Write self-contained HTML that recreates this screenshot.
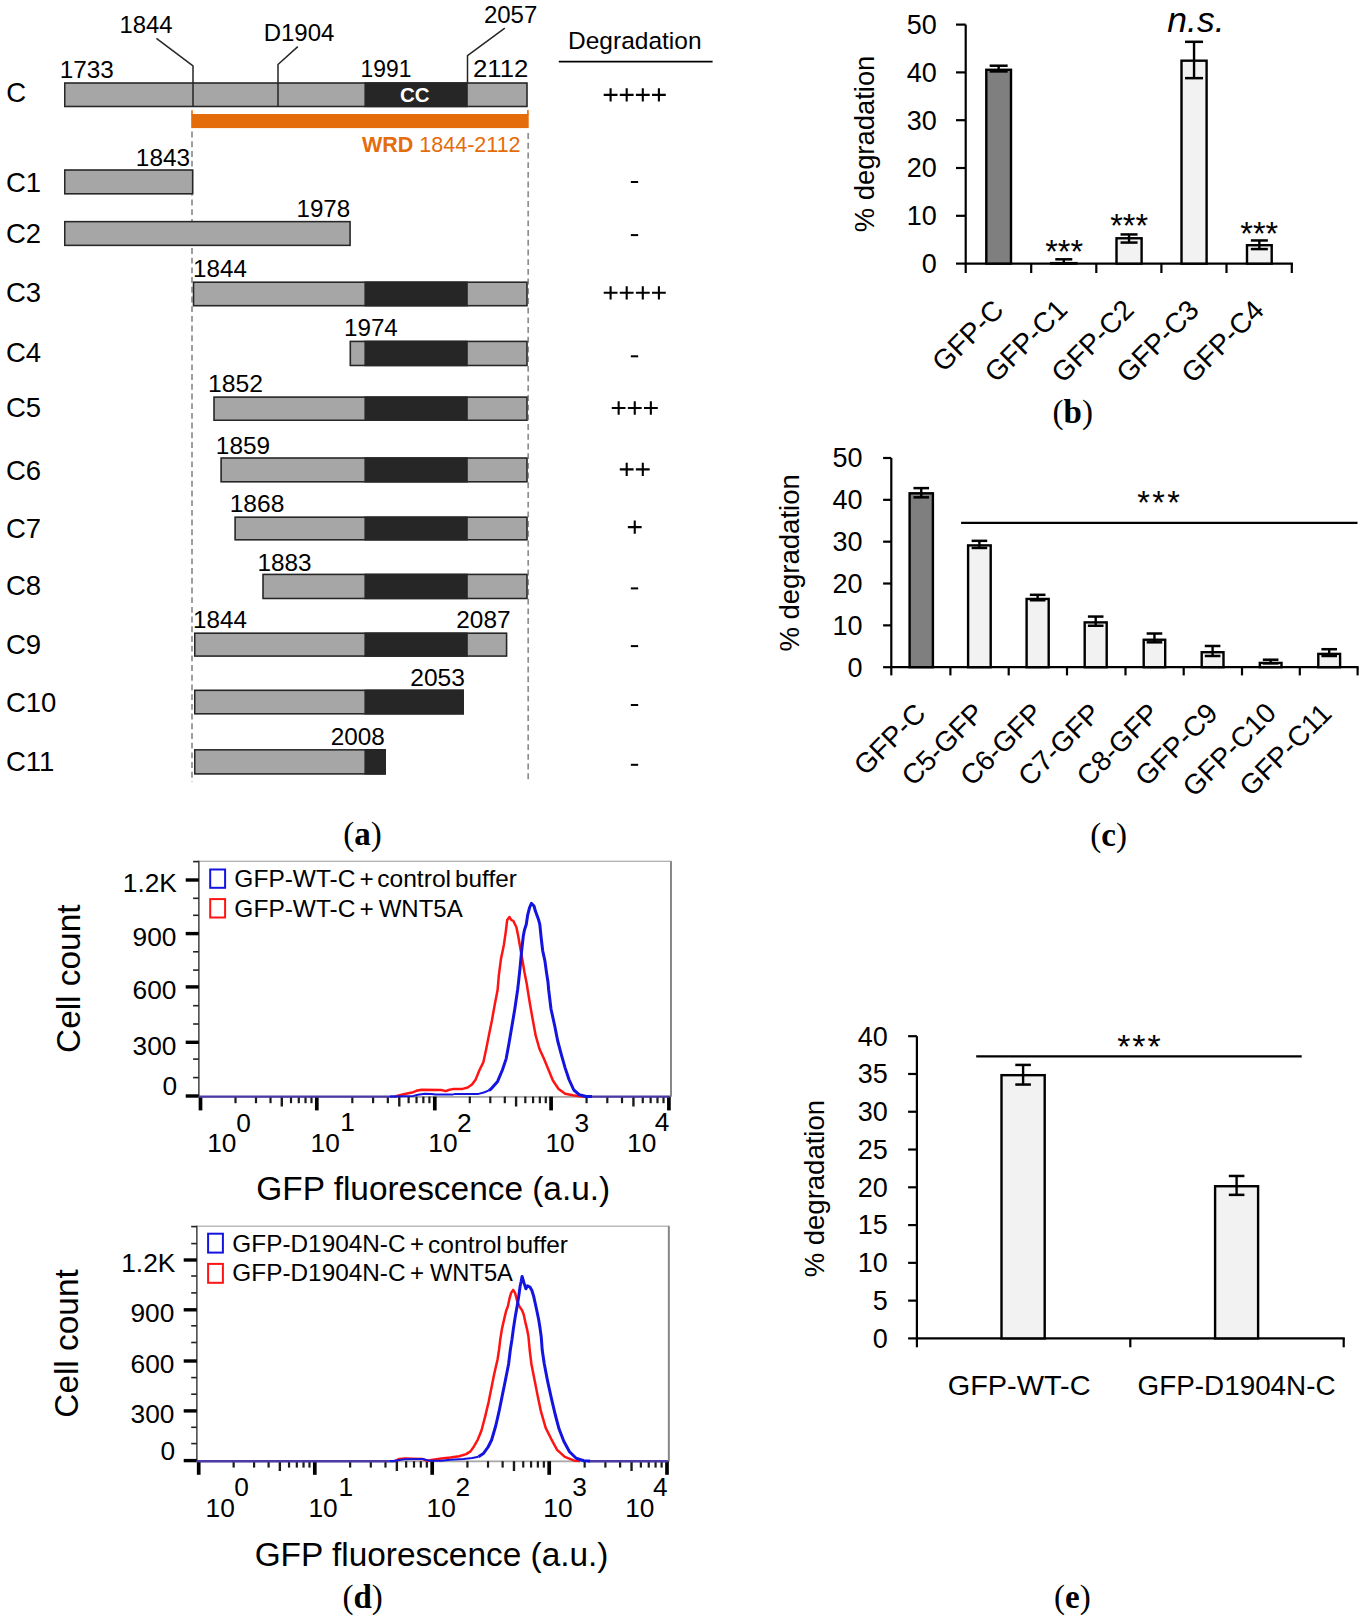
<!DOCTYPE html>
<html><head><meta charset="utf-8"><title>Figure</title>
<style>html,body{margin:0;padding:0;background:#fff;overflow:hidden;} svg{display:block;}</style></head>
<body><svg width="1365" height="1619" viewBox="0 0 1365 1619" font-family='"Liberation Sans", sans-serif'>
<rect width="1365" height="1619" fill="#fff"/>
<line x1="192.00" y1="131.60" x2="192.00" y2="782.00" stroke="#8f8f8f" stroke-width="1.7" stroke-dasharray="5.9,3.8"/>
<line x1="528.20" y1="133.10" x2="528.20" y2="782.00" stroke="#8f8f8f" stroke-width="1.7" stroke-dasharray="5.9,3.8"/>
<text x="6.22" y="102.32" font-size="27.5" font-family='"Liberation Sans", sans-serif' >C</text>
<rect x="64.00" y="82.30" width="463.70" height="24.90" fill="#a6a6a6"/>
<rect x="364.4" y="82.30" width="103.40" height="24.90" fill="#262626"/>
<rect x="64.75" y="83.05" width="462.20" height="23.40" fill="none" stroke="#262626" stroke-width="1.5"/>
<text x="5.92" y="191.92" font-size="27.5" font-family='"Liberation Sans", sans-serif' >C1</text>
<rect x="64.00" y="169.30" width="129.40" height="25.20" fill="#a6a6a6"/>
<rect x="64.75" y="170.05" width="127.90" height="23.70" fill="none" stroke="#262626" stroke-width="1.5"/>
<text x="5.92" y="242.92" font-size="27.5" font-family='"Liberation Sans", sans-serif' >C2</text>
<rect x="64.00" y="220.90" width="286.80" height="25.20" fill="#a6a6a6"/>
<rect x="64.75" y="221.65" width="285.30" height="23.70" fill="none" stroke="#262626" stroke-width="1.5"/>
<text x="5.92" y="302.33" font-size="27.5" font-family='"Liberation Sans", sans-serif' >C3</text>
<rect x="192.80" y="281.50" width="334.90" height="24.90" fill="#a6a6a6"/>
<rect x="364.4" y="281.50" width="103.40" height="24.90" fill="#262626"/>
<rect x="193.55" y="282.25" width="333.40" height="23.40" fill="none" stroke="#262626" stroke-width="1.5"/>
<text x="5.92" y="361.83" font-size="27.5" font-family='"Liberation Sans", sans-serif' >C4</text>
<rect x="349.60" y="340.70" width="178.10" height="25.50" fill="#a6a6a6"/>
<rect x="364.4" y="340.70" width="103.40" height="25.50" fill="#262626"/>
<rect x="350.35" y="341.45" width="176.60" height="24.00" fill="none" stroke="#262626" stroke-width="1.5"/>
<text x="5.92" y="417.23" font-size="27.5" font-family='"Liberation Sans", sans-serif' >C5</text>
<rect x="213.30" y="396.40" width="314.40" height="24.60" fill="#a6a6a6"/>
<rect x="364.4" y="396.40" width="103.40" height="24.60" fill="#262626"/>
<rect x="214.05" y="397.15" width="312.90" height="23.10" fill="none" stroke="#262626" stroke-width="1.5"/>
<text x="5.92" y="479.62" font-size="27.5" font-family='"Liberation Sans", sans-serif' >C6</text>
<rect x="220.40" y="457.30" width="307.30" height="25.20" fill="#a6a6a6"/>
<rect x="364.4" y="457.30" width="103.40" height="25.20" fill="#262626"/>
<rect x="221.15" y="458.05" width="305.80" height="23.70" fill="none" stroke="#262626" stroke-width="1.5"/>
<text x="5.92" y="538.23" font-size="27.5" font-family='"Liberation Sans", sans-serif' >C7</text>
<rect x="234.40" y="516.50" width="293.30" height="24.00" fill="#a6a6a6"/>
<rect x="364.4" y="516.50" width="103.40" height="24.00" fill="#262626"/>
<rect x="235.15" y="517.25" width="291.80" height="22.50" fill="none" stroke="#262626" stroke-width="1.5"/>
<text x="5.92" y="595.33" font-size="27.5" font-family='"Liberation Sans", sans-serif' >C8</text>
<rect x="262.30" y="573.70" width="265.40" height="25.50" fill="#a6a6a6"/>
<rect x="364.4" y="573.70" width="103.40" height="25.50" fill="#262626"/>
<rect x="263.05" y="574.45" width="263.90" height="24.00" fill="none" stroke="#262626" stroke-width="1.5"/>
<text x="5.92" y="653.62" font-size="27.5" font-family='"Liberation Sans", sans-serif' >C9</text>
<rect x="194.00" y="632.50" width="313.30" height="24.30" fill="#a6a6a6"/>
<rect x="364.4" y="632.50" width="103.40" height="24.30" fill="#262626"/>
<rect x="194.75" y="633.25" width="311.80" height="22.80" fill="none" stroke="#262626" stroke-width="1.5"/>
<text x="5.92" y="712.23" font-size="27.5" font-family='"Liberation Sans", sans-serif' >C10</text>
<rect x="194.00" y="689.60" width="269.90" height="24.90" fill="#a6a6a6"/>
<rect x="364.4" y="689.60" width="99.50" height="24.90" fill="#262626"/>
<rect x="194.75" y="690.35" width="268.40" height="23.40" fill="none" stroke="#262626" stroke-width="1.5"/>
<text x="5.92" y="771.43" font-size="27.5" font-family='"Liberation Sans", sans-serif' >C11</text>
<rect x="194.00" y="749.10" width="191.90" height="25.50" fill="#a6a6a6"/>
<rect x="364.4" y="749.10" width="21.50" height="25.50" fill="#262626"/>
<rect x="194.75" y="749.85" width="190.40" height="24.00" fill="none" stroke="#262626" stroke-width="1.5"/>
<text x="59.68" y="78.30" font-size="24" font-family='"Liberation Sans", sans-serif' textLength="54.09" lengthAdjust="spacingAndGlyphs" >1733</text>
<text x="360.59" y="77.00" font-size="24" font-family='"Liberation Sans", sans-serif' textLength="50.83" lengthAdjust="spacingAndGlyphs" >1991</text>
<text x="473.01" y="77.00" font-size="24" font-family='"Liberation Sans", sans-serif' textLength="55.39" lengthAdjust="spacingAndGlyphs" >2112</text>
<text x="483.90" y="22.70" font-size="24" font-family='"Liberation Sans", sans-serif' >2057</text>
<text x="119.41" y="32.90" font-size="24" font-family='"Liberation Sans", sans-serif' textLength="53.10" lengthAdjust="spacingAndGlyphs" >1844</text>
<text x="135.88" y="166.20" font-size="24" font-family='"Liberation Sans", sans-serif' textLength="54.09" lengthAdjust="spacingAndGlyphs" >1843</text>
<text x="296.49" y="216.90" font-size="24" font-family='"Liberation Sans", sans-serif' textLength="53.77" lengthAdjust="spacingAndGlyphs" >1978</text>
<text x="193.09" y="276.90" font-size="24" font-family='"Liberation Sans", sans-serif' textLength="53.83" lengthAdjust="spacingAndGlyphs" >1844</text>
<text x="343.99" y="336.10" font-size="24" font-family='"Liberation Sans", sans-serif' textLength="53.83" lengthAdjust="spacingAndGlyphs" >1974</text>
<text x="207.95" y="392.10" font-size="24" font-family='"Liberation Sans", sans-serif' textLength="54.98" lengthAdjust="spacingAndGlyphs" >1852</text>
<text x="215.87" y="453.60" font-size="24" font-family='"Liberation Sans", sans-serif' textLength="54.22" lengthAdjust="spacingAndGlyphs" >1859</text>
<text x="229.66" y="512.20" font-size="24" font-family='"Liberation Sans", sans-serif' textLength="54.72" lengthAdjust="spacingAndGlyphs" >1868</text>
<text x="257.48" y="570.80" font-size="24" font-family='"Liberation Sans", sans-serif' textLength="54.09" lengthAdjust="spacingAndGlyphs" >1883</text>
<text x="193.09" y="627.90" font-size="24" font-family='"Liberation Sans", sans-serif' textLength="53.83" lengthAdjust="spacingAndGlyphs" >1844</text>
<text x="456.28" y="628.00" font-size="24" font-family='"Liberation Sans", sans-serif' textLength="54.23" lengthAdjust="spacingAndGlyphs" >2087</text>
<text x="410.27" y="685.70" font-size="24" font-family='"Liberation Sans", sans-serif' textLength="54.60" lengthAdjust="spacingAndGlyphs" >2053</text>
<text x="330.78" y="744.50" font-size="24" font-family='"Liberation Sans", sans-serif' textLength="54.08" lengthAdjust="spacingAndGlyphs" >2008</text>
<text x="263.68" y="41.00" font-size="24" font-family='"Liberation Sans", sans-serif' >D1904</text>
<polyline points="156.40,38.40 193.00,65.90 193.00,107.00" fill="none" stroke="#262626" stroke-width="1.5" stroke-linejoin="round" />
<polyline points="297.80,46.60 278.00,64.50 278.00,107.00" fill="none" stroke="#262626" stroke-width="1.5" stroke-linejoin="round" />
<polyline points="504.80,28.10 467.50,55.70 467.50,83.00" fill="none" stroke="#262626" stroke-width="1.5" stroke-linejoin="round" />
<text x="399.98" y="102.45" font-size="20.5" font-family='"Liberation Sans", sans-serif' font-weight="bold" fill="#fff" >CC</text>
<rect x="191.2" y="114" width="337.5" height="14.1" fill="#e46c0a"/>
<line x1="192.00" y1="110.30" x2="192.00" y2="115.00" stroke="#e46c0a" stroke-width="1.6" />
<line x1="527.90" y1="110.00" x2="527.90" y2="115.00" stroke="#e46c0a" stroke-width="1.6" />
<text x="362.0" y="152.2" font-size="21.5" font-family='"Liberation Sans", sans-serif' fill="#e46c0a"><tspan font-weight="bold">WRD</tspan> 1844-2112</text>
<text x="568.04" y="48.96" font-size="24.5" font-family='"Liberation Sans", sans-serif' >Degradation</text>
<line x1="558.80" y1="61.60" x2="712.60" y2="61.60" stroke="#000" stroke-width="1.8" />
<path d="M603.70,94.85H617.50M610.60,88.20V101.50" stroke="#000" stroke-width="2.1" fill="none"/>
<path d="M619.80,94.85H633.60M626.70,88.20V101.50" stroke="#000" stroke-width="2.1" fill="none"/>
<path d="M635.90,94.85H649.70M642.80,88.20V101.50" stroke="#000" stroke-width="2.1" fill="none"/>
<path d="M652.00,94.85H665.80M658.90,88.20V101.50" stroke="#000" stroke-width="2.1" fill="none"/>
<path d="M603.70,292.80H617.50M610.60,286.15V299.45" stroke="#000" stroke-width="2.1" fill="none"/>
<path d="M619.80,292.80H633.60M626.70,286.15V299.45" stroke="#000" stroke-width="2.1" fill="none"/>
<path d="M635.90,292.80H649.70M642.80,286.15V299.45" stroke="#000" stroke-width="2.1" fill="none"/>
<path d="M652.00,292.80H665.80M658.90,286.15V299.45" stroke="#000" stroke-width="2.1" fill="none"/>
<path d="M611.75,408.00H625.55M618.65,401.35V414.65" stroke="#000" stroke-width="2.1" fill="none"/>
<path d="M627.85,408.00H641.65M634.75,401.35V414.65" stroke="#000" stroke-width="2.1" fill="none"/>
<path d="M643.95,408.00H657.75M650.85,401.35V414.65" stroke="#000" stroke-width="2.1" fill="none"/>
<path d="M619.80,469.40H633.60M626.70,462.75V476.05" stroke="#000" stroke-width="2.1" fill="none"/>
<path d="M635.90,469.40H649.70M642.80,462.75V476.05" stroke="#000" stroke-width="2.1" fill="none"/>
<path d="M627.85,527.10H641.65M634.75,520.45V533.75" stroke="#000" stroke-width="2.1" fill="none"/>
<rect x="630.85" y="181.00" width="7.3" height="2" fill="#000"/>
<rect x="630.85" y="234.10" width="7.3" height="2" fill="#000"/>
<rect x="630.85" y="355.30" width="7.3" height="2" fill="#000"/>
<rect x="630.85" y="587.40" width="7.3" height="2" fill="#000"/>
<rect x="630.85" y="645.10" width="7.3" height="2" fill="#000"/>
<rect x="630.85" y="704.00" width="7.3" height="2" fill="#000"/>
<rect x="630.85" y="763.80" width="7.3" height="2" fill="#000"/>
<text x="362.6" y="845" text-anchor="middle" font-size="33" font-family='"Liberation Serif", serif'>(<tspan font-weight="bold">a</tspan>)</text>
<line x1="965.70" y1="24.60" x2="965.70" y2="264.60" stroke="#000" stroke-width="2.2" />
<line x1="956.00" y1="263.60" x2="965.70" y2="263.60" stroke="#000" stroke-width="2.2" />
<text x="921.76" y="272.92" font-size="27" font-family='"Liberation Sans", sans-serif' >0</text>
<line x1="956.00" y1="215.80" x2="965.70" y2="215.80" stroke="#000" stroke-width="2.2" />
<text x="906.77" y="225.12" font-size="27" font-family='"Liberation Sans", sans-serif' >10</text>
<line x1="956.00" y1="168.00" x2="965.70" y2="168.00" stroke="#000" stroke-width="2.2" />
<text x="906.77" y="177.31" font-size="27" font-family='"Liberation Sans", sans-serif' >20</text>
<line x1="956.00" y1="120.20" x2="965.70" y2="120.20" stroke="#000" stroke-width="2.2" />
<text x="906.77" y="129.52" font-size="27" font-family='"Liberation Sans", sans-serif' >30</text>
<line x1="956.00" y1="72.40" x2="965.70" y2="72.40" stroke="#000" stroke-width="2.2" />
<text x="906.77" y="81.72" font-size="27" font-family='"Liberation Sans", sans-serif' >40</text>
<line x1="956.00" y1="24.60" x2="965.70" y2="24.60" stroke="#000" stroke-width="2.2" />
<text x="906.77" y="33.92" font-size="27" font-family='"Liberation Sans", sans-serif' >50</text>
<line x1="964.70" y1="263.60" x2="1292.90" y2="263.60" stroke="#000" stroke-width="2.2" />
<line x1="965.70" y1="263.60" x2="965.70" y2="273.00" stroke="#000" stroke-width="2.2" />
<line x1="1031.20" y1="263.60" x2="1031.20" y2="273.00" stroke="#000" stroke-width="2.2" />
<line x1="1096.30" y1="263.60" x2="1096.30" y2="273.00" stroke="#000" stroke-width="2.2" />
<line x1="1161.40" y1="263.60" x2="1161.40" y2="273.00" stroke="#000" stroke-width="2.2" />
<line x1="1226.50" y1="263.60" x2="1226.50" y2="273.00" stroke="#000" stroke-width="2.2" />
<line x1="1291.80" y1="263.60" x2="1291.80" y2="273.00" stroke="#000" stroke-width="2.2" />
<rect x="986.30" y="69.78" width="24.70" height="193.82" fill="#7f7f7f" stroke="#000" stroke-width="2.4"/>
<line x1="998.65" y1="71.44" x2="998.65" y2="65.71" stroke="#000" stroke-width="2.4" />
<line x1="989.65" y1="71.44" x2="1007.65" y2="71.44" stroke="#000" stroke-width="2.5" />
<line x1="989.65" y1="65.71" x2="1007.65" y2="65.71" stroke="#000" stroke-width="2.5" />
<rect x="1051.20" y="263.13" width="25.20" height="0.47" fill="#f2f2f2" stroke="#000" stroke-width="2.4"/>
<line x1="1063.80" y1="263.60" x2="1063.80" y2="259.30" stroke="#000" stroke-width="2.4" />
<line x1="1055.30" y1="263.60" x2="1072.30" y2="263.60" stroke="#000" stroke-width="2.5" />
<line x1="1055.30" y1="259.30" x2="1072.30" y2="259.30" stroke="#000" stroke-width="2.5" />
<rect x="1116.50" y="238.27" width="25.10" height="25.33" fill="#f2f2f2" stroke="#000" stroke-width="2.4"/>
<line x1="1129.05" y1="242.57" x2="1129.05" y2="234.44" stroke="#000" stroke-width="2.4" />
<line x1="1120.55" y1="242.57" x2="1137.55" y2="242.57" stroke="#000" stroke-width="2.5" />
<line x1="1120.55" y1="234.44" x2="1137.55" y2="234.44" stroke="#000" stroke-width="2.5" />
<rect x="1181.50" y="60.69" width="25.10" height="202.91" fill="#f2f2f2" stroke="#000" stroke-width="2.4"/>
<line x1="1194.05" y1="78.14" x2="1194.05" y2="41.81" stroke="#000" stroke-width="2.4" />
<line x1="1185.05" y1="78.14" x2="1203.05" y2="78.14" stroke="#000" stroke-width="2.5" />
<line x1="1185.05" y1="41.81" x2="1203.05" y2="41.81" stroke="#000" stroke-width="2.5" />
<rect x="1247.00" y="245.20" width="24.70" height="18.40" fill="#f2f2f2" stroke="#000" stroke-width="2.4"/>
<line x1="1259.35" y1="249.07" x2="1259.35" y2="240.46" stroke="#000" stroke-width="2.4" />
<line x1="1250.85" y1="249.07" x2="1267.85" y2="249.07" stroke="#000" stroke-width="2.5" />
<line x1="1250.85" y1="240.46" x2="1267.85" y2="240.46" stroke="#000" stroke-width="2.5" />
<text transform="translate(874.05,232.30) rotate(-90)" x="0" y="0" font-size="27.4" font-family='"Liberation Sans", sans-serif' fill="#000">% degradation</text>
<text x="1045.21" y="262.62" font-size="32.5" font-family='"Liberation Sans", sans-serif' >***</text>
<text x="1110.21" y="236.93" font-size="32.5" font-family='"Liberation Sans", sans-serif' >***</text>
<text x="1240.31" y="244.62" font-size="32.5" font-family='"Liberation Sans", sans-serif' >***</text>
<text x="1167.37" y="32.07" font-size="35.5" font-family='"Liberation Sans", sans-serif' font-style="italic" >n.s.</text>
<text transform="translate(1005.37,311.60) rotate(-45)" x="0" y="0" text-anchor="end" font-size="28" font-family='"Liberation Sans", sans-serif'>GFP-C</text>
<text transform="translate(1068.94,311.22) rotate(-45)" x="0" y="0" text-anchor="end" font-size="28" font-family='"Liberation Sans", sans-serif'>GFP-C1</text>
<text transform="translate(1135.64,311.60) rotate(-45)" x="0" y="0" text-anchor="end" font-size="28" font-family='"Liberation Sans", sans-serif'>GFP-C2</text>
<text transform="translate(1200.50,311.70) rotate(-45)" x="0" y="0" text-anchor="end" font-size="28" font-family='"Liberation Sans", sans-serif'>GFP-C3</text>
<text transform="translate(1265.51,311.88) rotate(-45)" x="0" y="0" text-anchor="end" font-size="28" font-family='"Liberation Sans", sans-serif'>GFP-C4</text>
<text x="1072.8" y="423" text-anchor="middle" font-size="33" font-family='"Liberation Serif", serif'>(<tspan font-weight="bold">b</tspan>)</text>
<line x1="891.30" y1="458.00" x2="891.30" y2="668.20" stroke="#000" stroke-width="2.2" />
<line x1="883.10" y1="667.20" x2="891.30" y2="667.20" stroke="#000" stroke-width="2.2" />
<text x="847.56" y="676.52" font-size="27" font-family='"Liberation Sans", sans-serif' >0</text>
<line x1="883.10" y1="625.36" x2="891.30" y2="625.36" stroke="#000" stroke-width="2.2" />
<text x="832.58" y="634.68" font-size="27" font-family='"Liberation Sans", sans-serif' >10</text>
<line x1="883.10" y1="583.52" x2="891.30" y2="583.52" stroke="#000" stroke-width="2.2" />
<text x="832.58" y="592.84" font-size="27" font-family='"Liberation Sans", sans-serif' >20</text>
<line x1="883.10" y1="541.68" x2="891.30" y2="541.68" stroke="#000" stroke-width="2.2" />
<text x="832.58" y="551.00" font-size="27" font-family='"Liberation Sans", sans-serif' >30</text>
<line x1="883.10" y1="499.84" x2="891.30" y2="499.84" stroke="#000" stroke-width="2.2" />
<text x="832.58" y="509.16" font-size="27" font-family='"Liberation Sans", sans-serif' >40</text>
<line x1="883.10" y1="458.00" x2="891.30" y2="458.00" stroke="#000" stroke-width="2.2" />
<text x="832.58" y="467.31" font-size="27" font-family='"Liberation Sans", sans-serif' >50</text>
<line x1="890.30" y1="667.20" x2="1358.60" y2="667.20" stroke="#000" stroke-width="2.2" />
<line x1="891.30" y1="667.20" x2="891.30" y2="675.40" stroke="#000" stroke-width="2.2" />
<line x1="950.40" y1="667.20" x2="950.40" y2="675.40" stroke="#000" stroke-width="2.2" />
<line x1="1008.70" y1="667.20" x2="1008.70" y2="675.40" stroke="#000" stroke-width="2.2" />
<line x1="1067.00" y1="667.20" x2="1067.00" y2="675.40" stroke="#000" stroke-width="2.2" />
<line x1="1125.50" y1="667.20" x2="1125.50" y2="675.40" stroke="#000" stroke-width="2.2" />
<line x1="1183.70" y1="667.20" x2="1183.70" y2="675.40" stroke="#000" stroke-width="2.2" />
<line x1="1242.00" y1="667.20" x2="1242.00" y2="675.40" stroke="#000" stroke-width="2.2" />
<line x1="1299.80" y1="667.20" x2="1299.80" y2="675.40" stroke="#000" stroke-width="2.2" />
<line x1="1357.60" y1="667.20" x2="1357.60" y2="675.40" stroke="#000" stroke-width="2.2" />
<rect x="909.60" y="493.30" width="23.30" height="173.90" fill="#7f7f7f" stroke="#000" stroke-width="2.4"/>
<line x1="921.25" y1="497.33" x2="921.25" y2="488.12" stroke="#000" stroke-width="2.4" />
<line x1="913.45" y1="497.33" x2="929.05" y2="497.33" stroke="#000" stroke-width="2.5" />
<line x1="913.45" y1="488.12" x2="929.05" y2="488.12" stroke="#000" stroke-width="2.5" />
<rect x="968.10" y="545.39" width="22.60" height="121.81" fill="#f2f2f2" stroke="#000" stroke-width="2.4"/>
<line x1="979.40" y1="547.96" x2="979.40" y2="540.84" stroke="#000" stroke-width="2.4" />
<line x1="971.60" y1="547.96" x2="987.20" y2="547.96" stroke="#000" stroke-width="2.5" />
<line x1="971.60" y1="540.84" x2="987.20" y2="540.84" stroke="#000" stroke-width="2.5" />
<rect x="1026.60" y="598.95" width="22.10" height="68.25" fill="#f2f2f2" stroke="#000" stroke-width="2.4"/>
<line x1="1037.65" y1="600.26" x2="1037.65" y2="594.82" stroke="#000" stroke-width="2.4" />
<line x1="1029.85" y1="600.26" x2="1045.45" y2="600.26" stroke="#000" stroke-width="2.5" />
<line x1="1029.85" y1="594.82" x2="1045.45" y2="594.82" stroke="#000" stroke-width="2.5" />
<rect x="1084.70" y="622.38" width="22.00" height="44.82" fill="#f2f2f2" stroke="#000" stroke-width="2.4"/>
<line x1="1095.70" y1="625.78" x2="1095.70" y2="616.57" stroke="#000" stroke-width="2.4" />
<line x1="1087.90" y1="625.78" x2="1103.50" y2="625.78" stroke="#000" stroke-width="2.5" />
<line x1="1087.90" y1="616.57" x2="1103.50" y2="616.57" stroke="#000" stroke-width="2.5" />
<rect x="1143.70" y="639.74" width="21.50" height="27.46" fill="#f2f2f2" stroke="#000" stroke-width="2.4"/>
<line x1="1154.45" y1="642.31" x2="1154.45" y2="633.52" stroke="#000" stroke-width="2.4" />
<line x1="1146.65" y1="642.31" x2="1162.25" y2="642.31" stroke="#000" stroke-width="2.5" />
<line x1="1146.65" y1="633.52" x2="1162.25" y2="633.52" stroke="#000" stroke-width="2.5" />
<rect x="1201.70" y="652.21" width="21.80" height="14.99" fill="#f2f2f2" stroke="#000" stroke-width="2.4"/>
<line x1="1212.60" y1="655.99" x2="1212.60" y2="645.99" stroke="#000" stroke-width="2.4" />
<line x1="1204.80" y1="655.99" x2="1220.40" y2="655.99" stroke="#000" stroke-width="2.5" />
<line x1="1204.80" y1="645.99" x2="1220.40" y2="645.99" stroke="#000" stroke-width="2.5" />
<rect x="1259.80" y="662.92" width="21.70" height="4.28" fill="#f2f2f2" stroke="#000" stroke-width="2.4"/>
<line x1="1270.65" y1="663.39" x2="1270.65" y2="659.71" stroke="#000" stroke-width="2.4" />
<line x1="1262.85" y1="663.39" x2="1278.45" y2="663.39" stroke="#000" stroke-width="2.5" />
<line x1="1262.85" y1="659.71" x2="1278.45" y2="659.71" stroke="#000" stroke-width="2.5" />
<rect x="1318.30" y="653.88" width="21.80" height="13.32" fill="#f2f2f2" stroke="#000" stroke-width="2.4"/>
<line x1="1329.20" y1="655.99" x2="1329.20" y2="649.21" stroke="#000" stroke-width="2.4" />
<line x1="1321.40" y1="655.99" x2="1337.00" y2="655.99" stroke="#000" stroke-width="2.5" />
<line x1="1321.40" y1="649.21" x2="1337.00" y2="649.21" stroke="#000" stroke-width="2.5" />
<text transform="translate(799.02,651.62) rotate(-90)" x="0" y="0" font-size="27.5" font-family='"Liberation Sans", sans-serif' fill="#000">% degradation</text>
<line x1="961.10" y1="522.90" x2="1357.50" y2="522.90" stroke="#000" stroke-width="2.3" />
<text x="1137.21" y="514.02" font-size="32.5" font-family='"Liberation Sans", sans-serif' letter-spacing="2.4" >***</text>
<text transform="translate(927.22,715.25) rotate(-45)" x="0" y="0" text-anchor="end" font-size="28" font-family='"Liberation Sans", sans-serif'>GFP-C</text>
<text transform="translate(985.79,714.69) rotate(-45)" x="0" y="0" text-anchor="end" font-size="28" font-family='"Liberation Sans", sans-serif'>C5-GFP</text>
<text transform="translate(1044.24,714.69) rotate(-45)" x="0" y="0" text-anchor="end" font-size="28" font-family='"Liberation Sans", sans-serif'>C6-GFP</text>
<text transform="translate(1102.24,715.04) rotate(-45)" x="0" y="0" text-anchor="end" font-size="28" font-family='"Liberation Sans", sans-serif'>C7-GFP</text>
<text transform="translate(1160.74,715.04) rotate(-45)" x="0" y="0" text-anchor="end" font-size="28" font-family='"Liberation Sans", sans-serif'>C8-GFP</text>
<text transform="translate(1219.39,714.94) rotate(-45)" x="0" y="0" text-anchor="end" font-size="28" font-family='"Liberation Sans", sans-serif'>GFP-C9</text>
<text transform="translate(1277.83,714.56) rotate(-45)" x="0" y="0" text-anchor="end" font-size="28" font-family='"Liberation Sans", sans-serif'>GFP-C10</text>
<text transform="translate(1333.15,715.24) rotate(-45)" x="0" y="0" text-anchor="end" font-size="28" font-family='"Liberation Sans", sans-serif'>GFP-C11</text>
<text x="1108.6" y="846" text-anchor="middle" font-size="33" font-family='"Liberation Serif", serif'>(<tspan font-weight="bold">c</tspan>)</text>
<line x1="916.90" y1="1036.20" x2="916.90" y2="1339.40" stroke="#000" stroke-width="2.2" />
<line x1="908.10" y1="1338.40" x2="916.90" y2="1338.40" stroke="#000" stroke-width="2.2" />
<text x="872.66" y="1347.72" font-size="27" font-family='"Liberation Sans", sans-serif' >0</text>
<line x1="908.10" y1="1300.62" x2="916.90" y2="1300.62" stroke="#000" stroke-width="2.2" />
<text x="872.80" y="1309.81" font-size="27" font-family='"Liberation Sans", sans-serif' >5</text>
<line x1="908.10" y1="1262.85" x2="916.90" y2="1262.85" stroke="#000" stroke-width="2.2" />
<text x="857.68" y="1272.17" font-size="27" font-family='"Liberation Sans", sans-serif' >10</text>
<line x1="908.10" y1="1225.08" x2="916.90" y2="1225.08" stroke="#000" stroke-width="2.2" />
<text x="857.81" y="1234.26" font-size="27" font-family='"Liberation Sans", sans-serif' >15</text>
<line x1="908.10" y1="1187.30" x2="916.90" y2="1187.30" stroke="#000" stroke-width="2.2" />
<text x="857.68" y="1196.62" font-size="27" font-family='"Liberation Sans", sans-serif' >20</text>
<line x1="908.10" y1="1149.53" x2="916.90" y2="1149.53" stroke="#000" stroke-width="2.2" />
<text x="857.81" y="1158.84" font-size="27" font-family='"Liberation Sans", sans-serif' >25</text>
<line x1="908.10" y1="1111.75" x2="916.90" y2="1111.75" stroke="#000" stroke-width="2.2" />
<text x="857.68" y="1121.07" font-size="27" font-family='"Liberation Sans", sans-serif' >30</text>
<line x1="908.10" y1="1073.97" x2="916.90" y2="1073.97" stroke="#000" stroke-width="2.2" />
<text x="857.81" y="1083.29" font-size="27" font-family='"Liberation Sans", sans-serif' >35</text>
<line x1="908.10" y1="1036.20" x2="916.90" y2="1036.20" stroke="#000" stroke-width="2.2" />
<text x="857.68" y="1045.52" font-size="27" font-family='"Liberation Sans", sans-serif' >40</text>
<line x1="915.90" y1="1338.40" x2="1344.80" y2="1338.40" stroke="#000" stroke-width="2.2" />
<line x1="916.90" y1="1338.40" x2="916.90" y2="1347.30" stroke="#000" stroke-width="2.2" />
<line x1="1130.30" y1="1338.40" x2="1130.30" y2="1347.30" stroke="#000" stroke-width="2.2" />
<line x1="1343.70" y1="1338.40" x2="1343.70" y2="1347.30" stroke="#000" stroke-width="2.2" />
<rect x="1001.50" y="1075.17" width="43.20" height="263.23" fill="#f2f2f2" stroke="#000" stroke-width="2.4"/>
<line x1="1023.10" y1="1084.55" x2="1023.10" y2="1064.91" stroke="#000" stroke-width="2.4" />
<line x1="1015.30" y1="1084.55" x2="1030.90" y2="1084.55" stroke="#000" stroke-width="2.5" />
<line x1="1015.30" y1="1064.91" x2="1030.90" y2="1064.91" stroke="#000" stroke-width="2.5" />
<rect x="1215.10" y="1186.23" width="43.00" height="152.17" fill="#f2f2f2" stroke="#000" stroke-width="2.4"/>
<line x1="1236.60" y1="1194.86" x2="1236.60" y2="1175.97" stroke="#000" stroke-width="2.4" />
<line x1="1228.80" y1="1194.86" x2="1244.40" y2="1194.86" stroke="#000" stroke-width="2.5" />
<line x1="1228.80" y1="1175.97" x2="1244.40" y2="1175.97" stroke="#000" stroke-width="2.5" />
<text transform="translate(824.02,1277.33) rotate(-90)" x="0" y="0" font-size="27.5" font-family='"Liberation Sans", sans-serif' fill="#000">% degradation</text>
<line x1="976.20" y1="1056.30" x2="1301.70" y2="1056.30" stroke="#000" stroke-width="2.2" />
<text x="1117.19" y="1058.06" font-size="34" font-family='"Liberation Sans", sans-serif' letter-spacing="1.9" >***</text>
<text x="947.65" y="1395.11" font-size="28.3" font-family='"Liberation Sans", sans-serif' textLength="142.96" lengthAdjust="spacingAndGlyphs" >GFP-WT-C</text>
<text x="1137.61" y="1395.31" font-size="28.3" font-family='"Liberation Sans", sans-serif' textLength="197.95" lengthAdjust="spacingAndGlyphs" >GFP-D1904N-C</text>
<text x="1072.4" y="1608" text-anchor="middle" font-size="33" font-family='"Liberation Serif", serif'>(<tspan font-weight="bold">e</tspan>)</text>
<rect x="198.80" y="861.30" width="472.20" height="235.30" fill="#fff" stroke="#b0b0b0" stroke-width="1.3"/>
<line x1="671.00" y1="861.30" x2="671.00" y2="1096.60" stroke="#858585" stroke-width="1.9" />
<line x1="198.80" y1="860.80" x2="198.80" y2="1096.60" stroke="#555" stroke-width="1.6" />
<line x1="185.70" y1="880.00" x2="198.80" y2="880.00" stroke="#000" stroke-width="3.4" />
<line x1="185.70" y1="933.60" x2="198.80" y2="933.60" stroke="#000" stroke-width="3.4" />
<line x1="185.70" y1="986.90" x2="198.80" y2="986.90" stroke="#000" stroke-width="3.4" />
<line x1="185.70" y1="1042.30" x2="198.80" y2="1042.30" stroke="#000" stroke-width="3.4" />
<line x1="185.70" y1="1096.00" x2="198.80" y2="1096.00" stroke="#000" stroke-width="3.4" />
<line x1="193.10" y1="861.60" x2="198.80" y2="861.60" stroke="#222" stroke-width="1.6" />
<line x1="193.10" y1="898.30" x2="198.80" y2="898.30" stroke="#222" stroke-width="1.6" />
<line x1="193.10" y1="915.30" x2="198.80" y2="915.30" stroke="#222" stroke-width="1.6" />
<line x1="193.10" y1="951.80" x2="198.80" y2="951.80" stroke="#222" stroke-width="1.6" />
<line x1="193.10" y1="970.10" x2="198.80" y2="970.10" stroke="#222" stroke-width="1.6" />
<line x1="193.10" y1="1005.70" x2="198.80" y2="1005.70" stroke="#222" stroke-width="1.6" />
<line x1="193.10" y1="1024.00" x2="198.80" y2="1024.00" stroke="#222" stroke-width="1.6" />
<line x1="193.10" y1="1059.10" x2="198.80" y2="1059.10" stroke="#222" stroke-width="1.6" />
<line x1="193.10" y1="1077.60" x2="198.80" y2="1077.60" stroke="#222" stroke-width="1.6" />
<text x="122.82" y="892.30" font-size="26.3" font-family='"Liberation Sans", sans-serif' >1.2K</text>
<text x="132.53" y="945.74" font-size="26.3" font-family='"Liberation Sans", sans-serif' >900</text>
<text x="132.53" y="999.14" font-size="26.3" font-family='"Liberation Sans", sans-serif' >600</text>
<text x="132.53" y="1054.94" font-size="26.3" font-family='"Liberation Sans", sans-serif' >300</text>
<text x="162.52" y="1094.74" font-size="26.3" font-family='"Liberation Sans", sans-serif' >0</text>
<line x1="198.80" y1="1096.90" x2="671.00" y2="1096.90" stroke="#a8a8a8" stroke-width="1.6" />
<line x1="235.51" y1="1096.60" x2="235.51" y2="1103.20" stroke="#1a1a1a" stroke-width="2.2" />
<line x1="255.99" y1="1096.60" x2="255.99" y2="1103.20" stroke="#1a1a1a" stroke-width="2.2" />
<line x1="270.52" y1="1096.60" x2="270.52" y2="1103.20" stroke="#1a1a1a" stroke-width="2.2" />
<line x1="281.79" y1="1096.60" x2="281.79" y2="1106.50" stroke="#1a1a1a" stroke-width="2.4" />
<line x1="291.00" y1="1096.60" x2="291.00" y2="1103.20" stroke="#1a1a1a" stroke-width="2.2" />
<line x1="298.78" y1="1096.60" x2="298.78" y2="1103.20" stroke="#1a1a1a" stroke-width="2.2" />
<line x1="305.53" y1="1096.60" x2="305.53" y2="1103.20" stroke="#1a1a1a" stroke-width="2.2" />
<line x1="311.48" y1="1096.60" x2="311.48" y2="1103.20" stroke="#1a1a1a" stroke-width="2.2" />
<line x1="352.32" y1="1096.60" x2="352.32" y2="1103.20" stroke="#1a1a1a" stroke-width="2.2" />
<line x1="373.10" y1="1096.60" x2="373.10" y2="1103.20" stroke="#1a1a1a" stroke-width="2.2" />
<line x1="387.84" y1="1096.60" x2="387.84" y2="1103.20" stroke="#1a1a1a" stroke-width="2.2" />
<line x1="399.28" y1="1096.60" x2="399.28" y2="1106.50" stroke="#1a1a1a" stroke-width="2.4" />
<line x1="408.62" y1="1096.60" x2="408.62" y2="1103.20" stroke="#1a1a1a" stroke-width="2.2" />
<line x1="416.52" y1="1096.60" x2="416.52" y2="1103.20" stroke="#1a1a1a" stroke-width="2.2" />
<line x1="423.36" y1="1096.60" x2="423.36" y2="1103.20" stroke="#1a1a1a" stroke-width="2.2" />
<line x1="429.40" y1="1096.60" x2="429.40" y2="1103.20" stroke="#1a1a1a" stroke-width="2.2" />
<line x1="469.81" y1="1096.60" x2="469.81" y2="1103.20" stroke="#1a1a1a" stroke-width="2.2" />
<line x1="490.29" y1="1096.60" x2="490.29" y2="1103.20" stroke="#1a1a1a" stroke-width="2.2" />
<line x1="504.82" y1="1096.60" x2="504.82" y2="1103.20" stroke="#1a1a1a" stroke-width="2.2" />
<line x1="516.09" y1="1096.60" x2="516.09" y2="1106.50" stroke="#1a1a1a" stroke-width="2.4" />
<line x1="525.30" y1="1096.60" x2="525.30" y2="1103.20" stroke="#1a1a1a" stroke-width="2.2" />
<line x1="533.08" y1="1096.60" x2="533.08" y2="1103.20" stroke="#1a1a1a" stroke-width="2.2" />
<line x1="539.83" y1="1096.60" x2="539.83" y2="1103.20" stroke="#1a1a1a" stroke-width="2.2" />
<line x1="545.78" y1="1096.60" x2="545.78" y2="1103.20" stroke="#1a1a1a" stroke-width="2.2" />
<line x1="586.56" y1="1096.60" x2="586.56" y2="1103.20" stroke="#1a1a1a" stroke-width="2.2" />
<line x1="607.30" y1="1096.60" x2="607.30" y2="1103.20" stroke="#1a1a1a" stroke-width="2.2" />
<line x1="622.02" y1="1096.60" x2="622.02" y2="1103.20" stroke="#1a1a1a" stroke-width="2.2" />
<line x1="633.44" y1="1096.60" x2="633.44" y2="1106.50" stroke="#1a1a1a" stroke-width="2.4" />
<line x1="642.77" y1="1096.60" x2="642.77" y2="1103.20" stroke="#1a1a1a" stroke-width="2.2" />
<line x1="650.65" y1="1096.60" x2="650.65" y2="1103.20" stroke="#1a1a1a" stroke-width="2.2" />
<line x1="657.48" y1="1096.60" x2="657.48" y2="1103.20" stroke="#1a1a1a" stroke-width="2.2" />
<line x1="663.51" y1="1096.60" x2="663.51" y2="1103.20" stroke="#1a1a1a" stroke-width="2.2" />
<line x1="200.50" y1="1096.60" x2="200.50" y2="1110.40" stroke="#000" stroke-width="3.7" />
<line x1="316.80" y1="1096.60" x2="316.80" y2="1110.40" stroke="#000" stroke-width="3.7" />
<line x1="434.80" y1="1096.60" x2="434.80" y2="1110.40" stroke="#000" stroke-width="3.7" />
<line x1="551.10" y1="1096.60" x2="551.10" y2="1110.40" stroke="#000" stroke-width="3.7" />
<line x1="668.90" y1="1096.60" x2="668.90" y2="1110.40" stroke="#000" stroke-width="3.7" />
<line x1="198.80" y1="1096.60" x2="397.00" y2="1096.60" stroke="#4b3ba6" stroke-width="2.4" />
<line x1="583.00" y1="1096.60" x2="670.00" y2="1096.60" stroke="#4b3ba6" stroke-width="2.4" />
<polyline points="395.90,1096.20 404.70,1094.00 412.00,1092.60 416.40,1090.80 421.50,1089.70 441.30,1090.00 445.70,1091.10 448.60,1090.00 453.70,1088.90 462.50,1088.90 467.70,1087.50 472.00,1084.50 475.70,1079.40 479.50,1070.00 483.30,1062.40 486.20,1049.00 489.00,1034.80 491.90,1020.50 494.80,1004.30 497.60,990.00 498.80,975.60 501.00,958.70 503.90,944.80 505.80,931.60 507.20,919.90 509.40,917.00 511.20,919.90 513.40,921.00 516.40,927.20 518.20,936.00 520.00,946.30 522.20,958.70 524.40,971.90 526.60,982.90 527.70,990.00 530.00,1004.30 532.90,1020.50 535.70,1035.70 539.50,1049.00 544.30,1059.50 549.00,1071.00 552.90,1080.50 558.60,1089.00 565.20,1093.80 572.90,1095.20 579.50,1096.20 584.00,1096.60" fill="none" stroke="#ff1414" stroke-width="2.5" stroke-linejoin="round" />
<polyline points="390.00,1096.60 402.50,1096.20 413.40,1095.90 417.80,1094.80 425.20,1093.70 431.80,1093.90 435.40,1094.60 452.30,1094.60 455.20,1093.90 478.60,1093.90 484.50,1092.20 488.90,1090.40" fill="none" stroke="#1414e0" stroke-width="2.0" stroke-linejoin="round" />
<polyline points="488.90,1090.40 491.00,1089.00 497.60,1081.40 502.40,1070.00 506.20,1058.60 509.00,1043.30 511.90,1026.20 514.80,1009.00 517.60,990.00 518.60,981.40 520.00,968.30 521.50,952.10 523.30,936.00 524.40,930.20 526.30,924.30 527.70,914.80 529.60,907.50 531.40,903.40 534.00,906.00 535.40,911.10 538.40,919.20 539.80,924.30 541.30,939.00 542.70,950.70 544.90,960.90 546.40,971.90 547.90,981.40 548.70,990.00 551.00,1009.00 554.80,1026.20 557.60,1040.50 561.40,1054.80 565.20,1068.10 569.00,1079.50 573.80,1090.00 579.50,1094.80 586.20,1096.50 592.00,1096.60" fill="none" stroke="#1414e0" stroke-width="3.0" stroke-linejoin="round" />
<rect x="210.20" y="869.50" width="14.90" height="18.30" fill="none" stroke="#1414e0" stroke-width="2"/>
<rect x="210.20" y="899.10" width="14.90" height="18.40" fill="none" stroke="#ff1414" stroke-width="2"/>
<text x="234.38" y="887.09" font-size="23.7" font-family='"Liberation Sans", sans-serif' textLength="121.07" lengthAdjust="spacingAndGlyphs" >GFP-WT-C</text>
<text x="359.58" y="887.05" font-size="23.7" font-family='"Liberation Sans", sans-serif' textLength="14.21" lengthAdjust="spacingAndGlyphs" >+</text>
<text x="377.22" y="887.48" font-size="23.7" font-family='"Liberation Sans", sans-serif' textLength="73.82" lengthAdjust="spacingAndGlyphs" >control</text>
<text x="455.12" y="887.48" font-size="23.7" font-family='"Liberation Sans", sans-serif' textLength="61.64" lengthAdjust="spacingAndGlyphs" >buffer</text>
<text x="234.38" y="916.89" font-size="23.7" font-family='"Liberation Sans", sans-serif' textLength="121.07" lengthAdjust="spacingAndGlyphs" >GFP-WT-C</text>
<text x="359.58" y="916.85" font-size="23.7" font-family='"Liberation Sans", sans-serif' textLength="14.21" lengthAdjust="spacingAndGlyphs" >+</text>
<text x="378.68" y="916.65" font-size="23.7" font-family='"Liberation Sans", sans-serif' textLength="84.02" lengthAdjust="spacingAndGlyphs" >WNT5A</text>
<text x="207.23" y="1151.81" font-size="26.3" font-family='"Liberation Sans", sans-serif' >10</text>
<text x="310.53" y="1151.81" font-size="26.3" font-family='"Liberation Sans", sans-serif' >10</text>
<text x="428.33" y="1151.81" font-size="26.3" font-family='"Liberation Sans", sans-serif' >10</text>
<text x="545.43" y="1151.81" font-size="26.3" font-family='"Liberation Sans", sans-serif' >10</text>
<text x="627.03" y="1151.81" font-size="26.3" font-family='"Liberation Sans", sans-serif' >10</text>
<text x="236.35" y="1131.51" font-size="26.3" font-family='"Liberation Sans", sans-serif' >0</text>
<text x="340.13" y="1131.25" font-size="26.3" font-family='"Liberation Sans", sans-serif' >1</text>
<text x="457.08" y="1131.51" font-size="26.3" font-family='"Liberation Sans", sans-serif' >2</text>
<text x="574.45" y="1131.51" font-size="26.3" font-family='"Liberation Sans", sans-serif' >3</text>
<text x="654.77" y="1131.25" font-size="26.3" font-family='"Liberation Sans", sans-serif' >4</text>
<text x="256.33" y="1200.31" font-size="33.4" font-family='"Liberation Sans", sans-serif' >GFP fluorescence (a.u.)</text>
<text transform="translate(79.77,1052.98) rotate(-90)" x="0" y="0" font-size="33.4" font-family='"Liberation Sans", sans-serif' fill="#000">Cell count</text>
<rect x="196.80" y="1226.20" width="472.00" height="235.00" fill="#fff" stroke="#b0b0b0" stroke-width="1.3"/>
<line x1="668.80" y1="1226.20" x2="668.80" y2="1461.20" stroke="#858585" stroke-width="1.9" />
<line x1="196.80" y1="1225.70" x2="196.80" y2="1461.20" stroke="#555" stroke-width="1.6" />
<line x1="183.70" y1="1260.00" x2="196.80" y2="1260.00" stroke="#000" stroke-width="3.4" />
<line x1="183.70" y1="1309.80" x2="196.80" y2="1309.80" stroke="#000" stroke-width="3.4" />
<line x1="183.70" y1="1361.00" x2="196.80" y2="1361.00" stroke="#000" stroke-width="3.4" />
<line x1="183.70" y1="1410.90" x2="196.80" y2="1410.90" stroke="#000" stroke-width="3.4" />
<line x1="183.70" y1="1460.60" x2="196.80" y2="1460.60" stroke="#000" stroke-width="3.4" />
<line x1="191.20" y1="1226.60" x2="196.80" y2="1226.60" stroke="#222" stroke-width="1.6" />
<line x1="191.20" y1="1243.60" x2="196.80" y2="1243.60" stroke="#222" stroke-width="1.6" />
<line x1="191.20" y1="1276.00" x2="196.80" y2="1276.00" stroke="#222" stroke-width="1.6" />
<line x1="191.20" y1="1292.90" x2="196.80" y2="1292.90" stroke="#222" stroke-width="1.6" />
<line x1="191.20" y1="1325.80" x2="196.80" y2="1325.80" stroke="#222" stroke-width="1.6" />
<line x1="191.20" y1="1342.50" x2="196.80" y2="1342.50" stroke="#222" stroke-width="1.6" />
<line x1="191.20" y1="1377.60" x2="196.80" y2="1377.60" stroke="#222" stroke-width="1.6" />
<line x1="191.20" y1="1394.20" x2="196.80" y2="1394.20" stroke="#222" stroke-width="1.6" />
<line x1="191.20" y1="1427.30" x2="196.80" y2="1427.30" stroke="#222" stroke-width="1.6" />
<line x1="191.20" y1="1443.60" x2="196.80" y2="1443.60" stroke="#222" stroke-width="1.6" />
<text x="121.22" y="1272.00" font-size="26.3" font-family='"Liberation Sans", sans-serif' >1.2K</text>
<text x="130.43" y="1321.54" font-size="26.3" font-family='"Liberation Sans", sans-serif' >900</text>
<text x="130.53" y="1373.34" font-size="26.3" font-family='"Liberation Sans", sans-serif' >600</text>
<text x="130.53" y="1423.24" font-size="26.3" font-family='"Liberation Sans", sans-serif' >300</text>
<text x="160.52" y="1459.74" font-size="26.3" font-family='"Liberation Sans", sans-serif' >0</text>
<line x1="196.80" y1="1461.50" x2="668.80" y2="1461.50" stroke="#a8a8a8" stroke-width="1.6" />
<line x1="233.65" y1="1461.20" x2="233.65" y2="1467.60" stroke="#1a1a1a" stroke-width="2.2" />
<line x1="254.09" y1="1461.20" x2="254.09" y2="1467.60" stroke="#1a1a1a" stroke-width="2.2" />
<line x1="268.60" y1="1461.20" x2="268.60" y2="1467.60" stroke="#1a1a1a" stroke-width="2.2" />
<line x1="279.85" y1="1461.20" x2="279.85" y2="1471.00" stroke="#1a1a1a" stroke-width="2.4" />
<line x1="289.04" y1="1461.20" x2="289.04" y2="1467.60" stroke="#1a1a1a" stroke-width="2.2" />
<line x1="296.82" y1="1461.20" x2="296.82" y2="1467.60" stroke="#1a1a1a" stroke-width="2.2" />
<line x1="303.55" y1="1461.20" x2="303.55" y2="1467.60" stroke="#1a1a1a" stroke-width="2.2" />
<line x1="309.49" y1="1461.20" x2="309.49" y2="1467.60" stroke="#1a1a1a" stroke-width="2.2" />
<line x1="350.14" y1="1461.20" x2="350.14" y2="1467.60" stroke="#1a1a1a" stroke-width="2.2" />
<line x1="370.81" y1="1461.20" x2="370.81" y2="1467.60" stroke="#1a1a1a" stroke-width="2.2" />
<line x1="385.48" y1="1461.20" x2="385.48" y2="1467.60" stroke="#1a1a1a" stroke-width="2.2" />
<line x1="396.86" y1="1461.20" x2="396.86" y2="1471.00" stroke="#1a1a1a" stroke-width="2.4" />
<line x1="406.15" y1="1461.20" x2="406.15" y2="1467.60" stroke="#1a1a1a" stroke-width="2.2" />
<line x1="414.01" y1="1461.20" x2="414.01" y2="1467.60" stroke="#1a1a1a" stroke-width="2.2" />
<line x1="420.82" y1="1461.20" x2="420.82" y2="1467.60" stroke="#1a1a1a" stroke-width="2.2" />
<line x1="426.83" y1="1461.20" x2="426.83" y2="1467.60" stroke="#1a1a1a" stroke-width="2.2" />
<line x1="467.42" y1="1461.20" x2="467.42" y2="1467.60" stroke="#1a1a1a" stroke-width="2.2" />
<line x1="488.02" y1="1461.20" x2="488.02" y2="1467.60" stroke="#1a1a1a" stroke-width="2.2" />
<line x1="502.64" y1="1461.20" x2="502.64" y2="1467.60" stroke="#1a1a1a" stroke-width="2.2" />
<line x1="513.98" y1="1461.20" x2="513.98" y2="1471.00" stroke="#1a1a1a" stroke-width="2.4" />
<line x1="523.24" y1="1461.20" x2="523.24" y2="1467.60" stroke="#1a1a1a" stroke-width="2.2" />
<line x1="531.08" y1="1461.20" x2="531.08" y2="1467.60" stroke="#1a1a1a" stroke-width="2.2" />
<line x1="537.86" y1="1461.20" x2="537.86" y2="1467.60" stroke="#1a1a1a" stroke-width="2.2" />
<line x1="543.85" y1="1461.20" x2="543.85" y2="1467.60" stroke="#1a1a1a" stroke-width="2.2" />
<line x1="584.66" y1="1461.20" x2="584.66" y2="1467.60" stroke="#1a1a1a" stroke-width="2.2" />
<line x1="605.40" y1="1461.20" x2="605.40" y2="1467.60" stroke="#1a1a1a" stroke-width="2.2" />
<line x1="620.12" y1="1461.20" x2="620.12" y2="1467.60" stroke="#1a1a1a" stroke-width="2.2" />
<line x1="631.54" y1="1461.20" x2="631.54" y2="1471.00" stroke="#1a1a1a" stroke-width="2.4" />
<line x1="640.87" y1="1461.20" x2="640.87" y2="1467.60" stroke="#1a1a1a" stroke-width="2.2" />
<line x1="648.75" y1="1461.20" x2="648.75" y2="1467.60" stroke="#1a1a1a" stroke-width="2.2" />
<line x1="655.58" y1="1461.20" x2="655.58" y2="1467.60" stroke="#1a1a1a" stroke-width="2.2" />
<line x1="661.61" y1="1461.20" x2="661.61" y2="1467.60" stroke="#1a1a1a" stroke-width="2.2" />
<line x1="198.70" y1="1461.20" x2="198.70" y2="1474.80" stroke="#000" stroke-width="3.7" />
<line x1="314.80" y1="1461.20" x2="314.80" y2="1474.80" stroke="#000" stroke-width="3.7" />
<line x1="432.20" y1="1461.20" x2="432.20" y2="1474.80" stroke="#000" stroke-width="3.7" />
<line x1="549.20" y1="1461.20" x2="549.20" y2="1474.80" stroke="#000" stroke-width="3.7" />
<line x1="667.00" y1="1461.20" x2="667.00" y2="1474.80" stroke="#000" stroke-width="3.7" />
<line x1="196.80" y1="1461.20" x2="396.00" y2="1461.20" stroke="#4b3ba6" stroke-width="2.4" />
<line x1="588.00" y1="1461.20" x2="667.80" y2="1461.20" stroke="#4b3ba6" stroke-width="2.4" />
<polyline points="395.00,1461.00 399.30,1458.90 404.60,1458.60 422.20,1458.90 427.50,1460.70 432.70,1459.80 441.50,1458.50 450.30,1457.60 459.10,1456.30 466.20,1454.10 470.50,1451.40 474.10,1446.20 477.60,1440.00 481.40,1430.70 485.20,1416.40 488.60,1402.10 491.40,1387.90 494.30,1373.60 497.60,1359.30 499.00,1350.00 500.30,1339.20 502.00,1328.60 504.40,1318.10 506.10,1311.00 507.90,1306.30 509.60,1298.10 511.10,1292.90 513.20,1289.90 515.20,1293.40 517.00,1300.50 519.30,1306.30 521.90,1309.90 523.70,1314.50 525.20,1321.60 526.90,1328.60 528.40,1336.20 529.70,1350.00 531.40,1364.00 534.80,1381.20 537.60,1395.50 541.00,1411.70 545.70,1427.90 551.40,1439.30 557.10,1449.80 564.80,1456.90 574.30,1460.70 580.00,1461.00" fill="none" stroke="#ff1414" stroke-width="2.5" stroke-linejoin="round" />
<polyline points="390.00,1461.10 393.20,1461.10 404.60,1459.20 422.20,1458.90 429.20,1460.70 441.50,1460.70 450.30,1459.80 463.50,1458.90 472.30,1458.00 478.50,1456.70" fill="none" stroke="#1414e0" stroke-width="2.0" stroke-linejoin="round" />
<polyline points="478.50,1456.70 483.70,1453.20 488.10,1447.00 491.60,1440.00 495.70,1426.00 499.00,1411.70 501.90,1397.40 505.20,1381.20 508.60,1364.00 510.30,1350.00 512.00,1339.20 513.40,1328.60 515.20,1316.90 517.30,1305.20 518.70,1296.40 520.20,1285.80 521.10,1281.70 522.10,1276.40 524.00,1282.90 525.90,1288.80 527.50,1285.80 529.90,1287.00 531.90,1290.50 533.70,1296.40 535.10,1302.80 536.90,1311.00 538.70,1319.80 540.10,1328.60 541.30,1337.40 542.20,1350.00 544.30,1364.00 547.60,1381.20 551.40,1398.30 555.20,1414.50 559.00,1428.80 563.80,1441.20 569.50,1451.70 576.20,1458.30 583.80,1460.70 590.00,1461.00" fill="none" stroke="#1414e0" stroke-width="3.0" stroke-linejoin="round" />
<rect x="208.10" y="1233.70" width="14.80" height="18.90" fill="none" stroke="#1414e0" stroke-width="2"/>
<rect x="208.10" y="1263.90" width="14.80" height="18.90" fill="none" stroke="#ff1414" stroke-width="2"/>
<text x="232.38" y="1252.19" font-size="23.7" font-family='"Liberation Sans", sans-serif' textLength="173.14" lengthAdjust="spacingAndGlyphs" >GFP-D1904N-C</text>
<text x="409.99" y="1251.95" font-size="23.7" font-family='"Liberation Sans", sans-serif' textLength="14.09" lengthAdjust="spacingAndGlyphs" >+</text>
<text x="428.02" y="1252.58" font-size="23.7" font-family='"Liberation Sans", sans-serif' textLength="73.82" lengthAdjust="spacingAndGlyphs" >control</text>
<text x="505.91" y="1252.58" font-size="23.7" font-family='"Liberation Sans", sans-serif' textLength="62.06" lengthAdjust="spacingAndGlyphs" >buffer</text>
<text x="232.38" y="1280.89" font-size="23.7" font-family='"Liberation Sans", sans-serif' textLength="173.14" lengthAdjust="spacingAndGlyphs" >GFP-D1904N-C</text>
<text x="409.99" y="1280.75" font-size="23.7" font-family='"Liberation Sans", sans-serif' textLength="14.09" lengthAdjust="spacingAndGlyphs" >+</text>
<text x="429.98" y="1280.65" font-size="23.7" font-family='"Liberation Sans", sans-serif' >WNT5A</text>
<text x="205.53" y="1516.51" font-size="26.3" font-family='"Liberation Sans", sans-serif' >10</text>
<text x="308.43" y="1516.51" font-size="26.3" font-family='"Liberation Sans", sans-serif' >10</text>
<text x="426.53" y="1516.51" font-size="26.3" font-family='"Liberation Sans", sans-serif' >10</text>
<text x="543.33" y="1516.51" font-size="26.3" font-family='"Liberation Sans", sans-serif' >10</text>
<text x="625.23" y="1516.51" font-size="26.3" font-family='"Liberation Sans", sans-serif' >10</text>
<text x="234.15" y="1496.31" font-size="26.3" font-family='"Liberation Sans", sans-serif' >0</text>
<text x="338.53" y="1496.05" font-size="26.3" font-family='"Liberation Sans", sans-serif' >1</text>
<text x="455.38" y="1496.31" font-size="26.3" font-family='"Liberation Sans", sans-serif' >2</text>
<text x="572.35" y="1496.31" font-size="26.3" font-family='"Liberation Sans", sans-serif' >3</text>
<text x="653.07" y="1496.05" font-size="26.3" font-family='"Liberation Sans", sans-serif' >4</text>
<text x="254.63" y="1566.31" font-size="33.4" font-family='"Liberation Sans", sans-serif' >GFP fluorescence (a.u.)</text>
<text transform="translate(77.77,1417.73) rotate(-90)" x="0" y="0" font-size="33.4" font-family='"Liberation Sans", sans-serif' fill="#000">Cell count</text>
<text x="362.6" y="1608" text-anchor="middle" font-size="33" font-family='"Liberation Serif", serif'>(<tspan font-weight="bold">d</tspan>)</text>
</svg></body></html>
